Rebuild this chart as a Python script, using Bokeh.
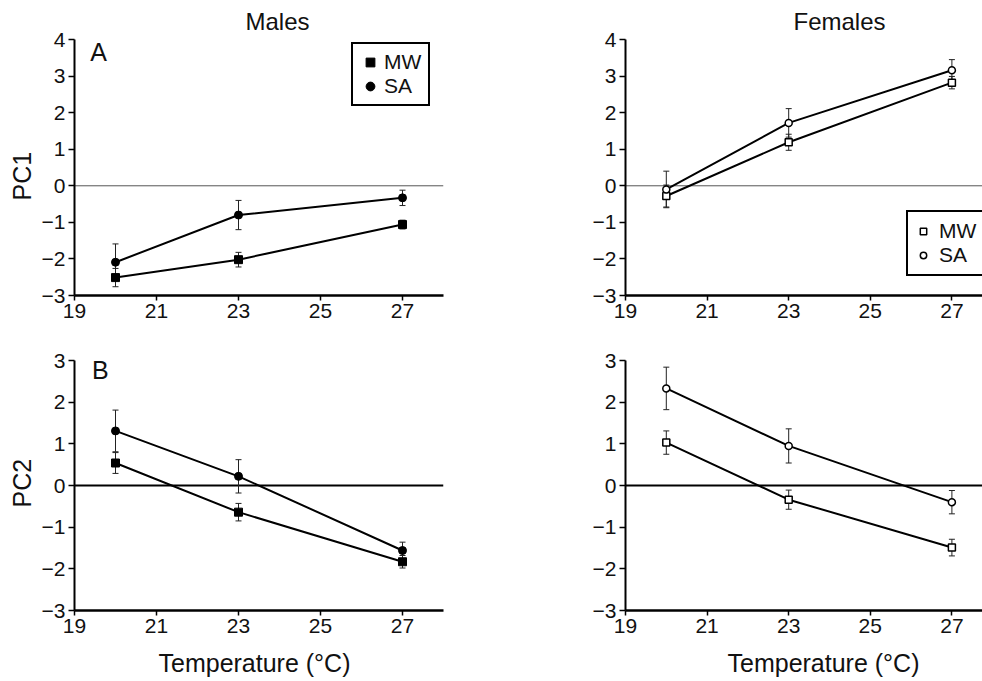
from bokeh.plotting import figure
from bokeh.models import (Range1d, FixedTicker, Span, Whisker, TeeHead,
                          ColumnDataSource, Legend, LegendItem, Label, Title)
from bokeh.layouts import column, row
from bokeh.embed import file_html
from bokeh.resources import INLINE

# ---------------- data ----------------
temps = [20, 23, 27]

males_pc1_mw = [-2.51, -2.02, -1.06]
males_pc1_mw_err = [0.25, 0.20, 0.12]
males_pc1_sa = [-2.09, -0.80, -0.33]
males_pc1_sa_err = [0.50, 0.40, 0.21]

females_pc1_mw = [-0.28, 1.19, 2.82]
females_pc1_mw_err = [0.30, 0.22, 0.17]
females_pc1_sa = [-0.10, 1.72, 3.16]
females_pc1_sa_err = [0.50, 0.39, 0.29]

males_pc2_mw = [0.54, -0.64, -1.83]
males_pc2_mw_err = [0.25, 0.21, 0.15]
males_pc2_sa = [1.31, 0.22, -1.56]
males_pc2_sa_err = [0.50, 0.40, 0.20]

females_pc2_mw = [1.03, -0.34, -1.49]
females_pc2_mw_err = [0.28, 0.23, 0.20]
females_pc2_sa = [2.33, 0.95, -0.40]
females_pc2_sa_err = [0.51, 0.41, 0.28]

x_ticks = [19, 21, 23, 25, 27]
pc1_ticks = [-3, -2, -1, 0, 1, 2, 3, 4]
pc1_tick_labels = ["\u22123", "\u22122", "\u22121", "0", "1", "2", "3", "4"]
pc2_ticks = [-3, -2, -1, 0, 1, 2, 3]
pc2_tick_labels = ["\u22123", "\u22122", "\u22121", "0", "1", "2", "3"]

series_names = ["MW", "SA"]
col_titles = ["Males", "Females"]
row_labels = ["PC1", "PC2"]
panel_letters = ["A", "B"]
x_label = "Temperature (\u00b0C)"

FONT = "Liberation Sans"


def make_fig(x_end, frame_w, frame_h, bl, br, bt, bb, y_lo, y_hi,
             yticks, ylabels, zero_color, zero_width):
    p = figure(frame_width=frame_w, frame_height=frame_h,
               min_border_left=bl, min_border_right=br,
               min_border_top=bt, min_border_bottom=bb,
               x_range=Range1d(19, x_end), y_range=Range1d(y_lo, y_hi),
               output_backend="svg", toolbar_location=None, title=None,
               background_fill_color="white", border_fill_color="white")
    p.outline_line_color = None
    p.xgrid.visible = False
    p.ygrid.visible = False
    p.xaxis.ticker = FixedTicker(ticks=x_ticks)
    p.yaxis.ticker = FixedTicker(ticks=yticks)
    p.yaxis.major_label_overrides = {t: l for t, l in zip(yticks, ylabels)}
    for ax in (p.xaxis[0], p.yaxis[0]):
        ax.axis_line_color = "black"
        ax.major_tick_line_color = "black"
        ax.major_tick_line_width = 1.5
        ax.minor_tick_line_color = None
        ax.major_tick_in = 0
        ax.major_label_text_font = FONT
        ax.major_label_text_font_size = "21px"
        ax.major_label_text_color = "#111111"
    p.xaxis.axis_line_width = 2.5
    p.yaxis.axis_line_width = 2
    p.xaxis.major_tick_out = 5
    p.yaxis.major_tick_out = 6
    p.xaxis.major_label_standoff = 3
    p.yaxis.major_label_standoff = 3
    p.add_layout(Span(location=0, dimension="width", line_color=zero_color,
                      line_width=zero_width, level="underlay"))
    return p


def add_series(p, ys, errs, marker, filled, size):
    src = ColumnDataSource(dict(x=temps, y=ys,
                                upper=[v + e for v, e in zip(ys, errs)],
                                lower=[v - e for v, e in zip(ys, errs)]))
    p.add_layout(Whisker(source=src, base="x", upper="upper", lower="lower",
                         line_color="#222222", line_width=1,
                         upper_head=TeeHead(size=6, line_width=1, line_color="#222222"),
                         lower_head=TeeHead(size=6, line_width=1, line_color="#222222"),
                         level="underlay"))
    p.line("x", "y", source=src, line_color="black", line_width=2)
    r = p.scatter("x", "y", source=src, marker=marker, size=size,
                  fill_color="black" if filled else "white",
                  line_color="black", line_width=1.5 if not filled else 1)
    return r


def add_label(p, x, y, text, size):
    p.add_layout(Label(x=x, y=y, text=text, text_font=FONT,
                       text_font_size=size, text_color="#111111",
                       text_align="center", text_baseline="middle"))


def add_title(p, text, side, offset, size, standoff, valign="bottom"):
    p.add_layout(Title(text=text, align="left", offset=offset,
                       text_font=FONT, text_font_size=size,
                       text_font_style="normal", text_color="#111111",
                       standoff=standoff, vertical_align=valign), side)


def make_legend(renderers, location, glyph_w, glyph_h, standoff, padding, label_w):
    return Legend(items=[LegendItem(label=n, renderers=[r])
                         for n, r in zip(series_names, renderers)],
                  location=location, glyph_width=glyph_w, glyph_height=glyph_h,
                  label_height=22, label_width=label_w, label_standoff=standoff,
                  spacing=0, padding=padding,
                  border_line_color="black", border_line_width=2,
                  border_line_alpha=1.0,
                  background_fill_color="white", background_fill_alpha=1,
                  label_text_font=FONT, label_text_font_size="21px",
                  label_text_color="#111111")


# layout constants (pixels)
LW, RW = 369, 357
TH, BH = 256, 250

# ---- top left: males PC1
p1 = make_fig(28, LW, TH, 74, 57, 39, 33, -3, 4, pc1_ticks, pc1_tick_labels, "#555555", 1)
r1a = add_series(p1, males_pc1_mw, males_pc1_mw_err, "square", True, 8)
r1b = add_series(p1, males_pc1_sa, males_pc1_sa_err, "circle", True, 8)
p1.add_layout(make_legend([r1a, r1b], (277, 189), 22, 22, 3, 6, 38))
add_title(p1, col_titles[0], "above", 171, "24px", 10)
add_title(p1, row_labels[0], "left", 95, "25px", 6)
add_label(p1, 19.59, 3.67, panel_letters[0], "25px")

# ---- top right: females PC1
p2 = make_fig(27.75, RW, TH, 125, 0, 39, 33, -3, 4, pc1_ticks, pc1_tick_labels, "#555555", 1)
r2a = add_series(p2, females_pc1_mw, females_pc1_mw_err, "square", False, 7)
r2b = add_series(p2, females_pc1_sa, females_pc1_sa_err, "circle", False, 7)
p2.add_layout(make_legend([r2a, r2b], (281, 19), 16, 18, 8, 7, 47))
add_title(p2, col_titles[1], "above", 168, "24px", 10)

# ---- bottom left: males PC2
p3 = make_fig(28, LW, BH, 74, 57, 32, 70, -3, 3, pc2_ticks, pc2_tick_labels, "black", 2)
add_series(p3, males_pc2_mw, males_pc2_mw_err, "square", True, 8)
add_series(p3, males_pc2_sa, males_pc2_sa_err, "circle", True, 8)
add_title(p3, row_labels[1], "left", 103, "25px", 6)
add_label(p3, 19.63, 2.78, panel_letters[1], "25px")
add_title(p3, x_label, "below", 84, "25px", 26, "top")

# ---- bottom right: females PC2
p4 = make_fig(27.75, RW, BH, 125, 0, 32, 70, -3, 3, pc2_ticks, pc2_tick_labels, "black", 2)
add_series(p4, females_pc2_mw, females_pc2_mw_err, "square", False, 7)
add_series(p4, females_pc2_sa, females_pc2_sa_err, "circle", False, 7)
add_title(p4, x_label, "below", 102, "25px", 26, "top")

layout = column(row(p1, p2), row(p3, p4))

open("out.html", "w").write(file_html(layout, INLINE))
